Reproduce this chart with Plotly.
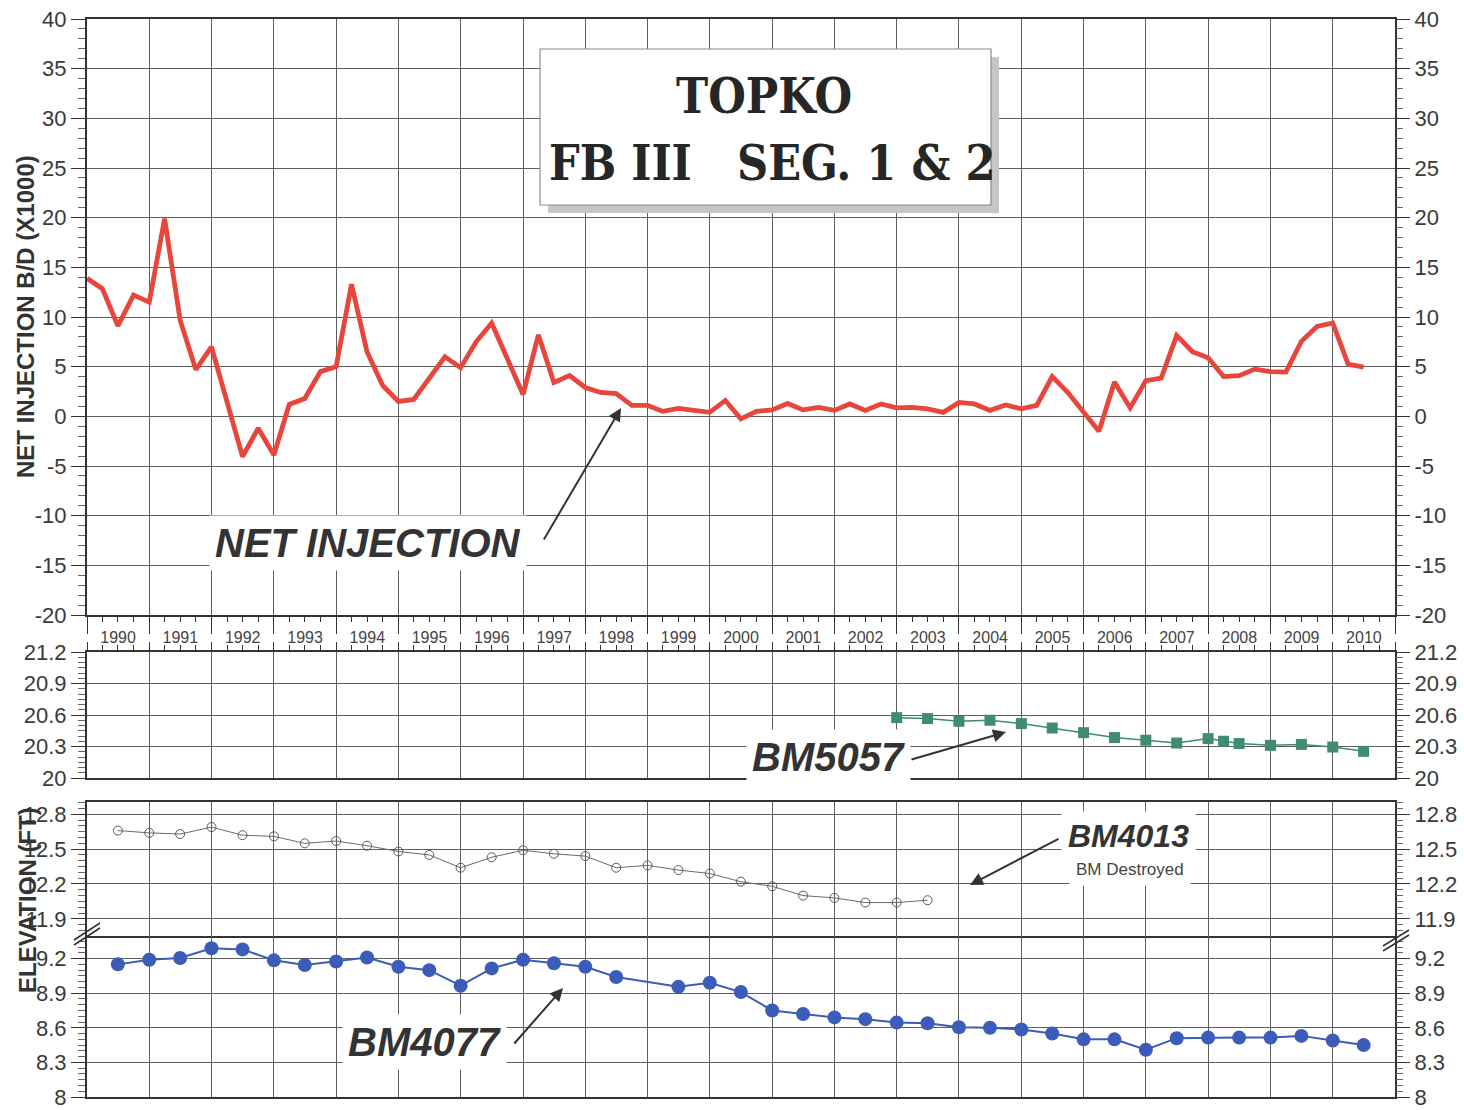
import pandas as pd
import plotly.graph_objects as go

# ---------------------------------------------------------------- data
# Net injection (B/D x1000), quarterly from 1990 Q1 through 2010 Q3
net_injection = [13.9, 12.85, 9.1, 12.2, 11.5, 19.9, 9.7, 4.7, 7.0, 1.6,
                 -4.05, -1.2, -3.9, 1.2, 1.8, 4.5, 5.0, 13.3, 6.5, 3.1,
                 1.5, 1.7, 3.8, 6.0, 4.9, 7.5, 9.4, 5.8, 2.2, 8.2,
                 3.4, 4.1, 2.9, 2.4, 2.3, 1.1, 1.1, 0.5, 0.8, 0.6,
                 0.4, 1.6, -0.25, 0.5, 0.65, 1.3, 0.65, 0.9, 0.6, 1.25,
                 0.6, 1.25, 0.85, 0.9, 0.75, 0.4, 1.4, 1.25, 0.6, 1.15,
                 0.75, 1.1, 4.0, 2.4, 0.5, -1.5, 3.45, 0.85, 3.6, 3.85,
                 8.15, 6.5, 5.9, 4.0, 4.1, 4.75, 4.5, 4.45, 7.55, 9.05,
                 9.4, 5.25, 4.95]
quarter_dates = pd.date_range("1990-01-01", periods=len(net_injection), freq="QS")

# tick labels of the injection axis (plain hyphen for negatives)
injection_ticks = [-20, -15, -10, -5, 0, 5, 10, 15, 20, 25, 30, 35, 40]
injection_ticktext = ["-20", "-15", "-10", "-5", "0", "5", "10", "15", "20",
                      "25", "30", "35", "40"]

# Benchmark BM5057 elevation (ft)
bm5057_dates = ["2003-01-01", "2003-07-01", "2004-01-01", "2004-07-01", "2005-01-01",
                "2005-07-01", "2006-01-01", "2006-07-01", "2007-01-01", "2007-07-01",
                "2008-01-01", "2008-04-01", "2008-07-01", "2009-01-01", "2009-07-01",
                "2010-01-01", "2010-07-01"]
bm5057_elev = [20.575, 20.566, 20.54, 20.55, 20.518, 20.476, 20.432, 20.385, 20.36,
               20.333, 20.375, 20.35, 20.328, 20.311, 20.32, 20.295, 20.254]

# Benchmark BM4013 elevation (ft), surveyed semi-annually until destroyed
bm4013_dates = pd.date_range("1990-07-01", "2003-07-01", freq="6MS")
bm4013_elev = [12.66, 12.64, 12.63, 12.69, 12.62, 12.61, 12.55, 12.57, 12.53,
               12.48, 12.45, 12.34, 12.43, 12.49, 12.46, 12.44, 12.34, 12.36,
               12.32, 12.29, 12.22, 12.18, 12.10, 12.08, 12.04, 12.04, 12.06]

# Benchmark BM4077 elevation (ft), semi-annual (no survey Jan 1999)
bm4077_dates = [d for d in pd.date_range("1990-07-01", "2010-07-01", freq="6MS")
                if d != pd.Timestamp("1999-01-01")]
bm4077_elev = [9.15, 9.19, 9.205, 9.29, 9.28, 9.185, 9.145, 9.175, 9.21, 9.13,
               9.10, 8.965, 9.115, 9.19, 9.16, 9.13, 9.04, 8.955, 8.99, 8.91,
               8.75, 8.72, 8.69, 8.675, 8.645, 8.64, 8.605, 8.60, 8.585, 8.55,
               8.50, 8.50, 8.41, 8.51, 8.515, 8.515, 8.515, 8.53, 8.49, 8.45]

# ---------------------------------------------------------------- layout helpers
W, H = 1464, 1110
ML, MR, MT, MB = 87, 69, 19, 13
PW, PH = W - ML - MR, H - MT - MB


def px_x(px):
    return (px - ML) / PW


def px_y(py):
    return (H - MB - py) / PH


def dom(top, bottom):
    return [px_y(bottom), px_y(top)]


FONT = "Liberation Sans, Arial, Helvetica, sans-serif"
INK = "#333333"
GRID = "#5e5e5e"
TICKFONT = dict(family=FONT, size=22, color="#3a3a3a")
XRANGE = ["1990-01-01", "2011-01-01"]

fig = go.Figure()

fig.add_trace(go.Scatter(x=quarter_dates, y=net_injection, mode="lines",
                         line=dict(color="#e8453c", width=4.8),
                         xaxis="x", yaxis="y", name="Net injection"))
fig.add_trace(go.Scatter(x=bm5057_dates, y=bm5057_elev, mode="lines+markers",
                         line=dict(color="#3f8c6e", width=1.5),
                         marker=dict(symbol="square", size=11, color="#3f8c6e"),
                         xaxis="x2", yaxis="y2", name="BM5057"))
fig.add_trace(go.Scatter(x=bm4013_dates, y=bm4013_elev, mode="lines+markers",
                         line=dict(color="#6a6a6a", width=1),
                         marker=dict(symbol="circle-open", size=9, color="#5a5a5a",
                                     line=dict(width=1)),
                         xaxis="x3", yaxis="y3", name="BM4013"))
fig.add_trace(go.Scatter(x=bm4077_dates, y=bm4077_elev, mode="lines+markers",
                         line=dict(color="#3b5cb8", width=2),
                         marker=dict(symbol="circle", size=14, color="#3b5cb8"),
                         xaxis="x4", yaxis="y4", name="BM4077"))

# transparent copies that carry the right-hand mirror axes
for xa, ya, xs, ys in [("x", "y5", quarter_dates, net_injection),
                       ("x2", "y6", bm5057_dates, bm5057_elev),
                       ("x3", "y7", bm4013_dates, bm4013_elev),
                       ("x4", "y8", bm4077_dates, bm4077_elev)]:
    fig.add_trace(go.Scatter(x=xs, y=ys, mode="lines", opacity=0,
                             line=dict(width=0), hoverinfo="skip",
                             xaxis=xa, yaxis=ya, showlegend=False))

xcommon = dict(type="date", range=XRANGE, dtick="M12", tick0="1990-01-01",
               showgrid=True, gridcolor=GRID, gridwidth=1, zeroline=False,
               showline=True, linecolor=INK, linewidth=2,
               domain=[0, 1], automargin=False)

fig.update_layout(
    xaxis=dict(**xcommon, anchor="y", mirror=True, ticks="outside", ticklen=17,
               tickwidth=1, tickcolor=INK, ticklabelmode="period", tickformat="%Y",
               ticklabelstandoff=-10,
               tickfont=dict(family=FONT, size=16, color="#444444"),
               minor=dict(dtick="M3", ticks="outside", ticklen=5, tickcolor=INK)),
    xaxis2=dict(**xcommon, anchor="y2", matches="x", mirror=True, side="top",
                ticks="outside", ticklen=8, tickcolor=INK, showticklabels=False,
                minor=dict(dtick="M3", ticks="outside", ticklen=5, tickcolor=INK)),
    xaxis3=dict(**xcommon, anchor="y3", matches="x", mirror=True,
                showticklabels=False),
    xaxis4=dict(**xcommon, anchor="y4", matches="x", mirror=False,
                showticklabels=False),
)


def yaxis(domain, rng, dtick, minor_dtick, tick0, **kw):
    return dict(domain=domain, range=rng, dtick=dtick, tick0=tick0,
                showgrid=True, gridcolor=GRID, gridwidth=1, zeroline=False,
                showline=True, mirror=True, linecolor=INK, linewidth=2,
                ticks="outside", ticklen=14, tickwidth=1, tickcolor=INK,
                tickfont=TICKFONT, automargin=False,
                minor=dict(dtick=minor_dtick, tick0=tick0, ticks="outside",
                           ticklen=7, tickcolor="#666666"),
                **kw)


def ymirror(base, anchor, dtick, minor_dtick, tick0, **kw):
    return dict(overlaying=base, matches=base, side="right", anchor=anchor,
                dtick=dtick, tick0=tick0, showgrid=False, zeroline=False,
                showline=False, ticks="outside", ticklen=14, tickwidth=1,
                tickcolor=INK, tickfont=TICKFONT, automargin=False,
                minor=dict(dtick=minor_dtick, tick0=tick0, ticks="outside",
                           ticklen=7, tickcolor="#666666"), **kw)


d_top = dom(19, 615)
d_mid = dom(652, 778)
d_up = dom(802, 936)
d_lo = dom(936, 1097)

inj_ticks = dict(tickmode="array", tickvals=injection_ticks,
                 ticktext=injection_ticktext)

fig.update_layout(
    yaxis=yaxis(d_top, [-20, 40], 5, 1, 0, anchor="x", **inj_ticks),
    yaxis2=yaxis(d_mid, [20, 21.2], 0.3, 0.05, 20, anchor="x2"),
    yaxis3=yaxis(d_up, [11.752, 12.906], 0.3, 0.05, 11.9, anchor="x3"),
    yaxis4=yaxis(d_lo, [8.0, 9.396], 0.3, 0.05, 8.0, anchor="x4"),
    yaxis5=ymirror("y", "x", 5, 1, 0, **inj_ticks),
    yaxis6=ymirror("y2", "x2", 0.3, 0.05, 20),
    yaxis7=ymirror("y3", "x3", 0.3, 0.05, 11.9),
    yaxis8=ymirror("y4", "x4", 0.3, 0.05, 8.0),
)

# ---------------------------------------------------------------- title box
shapes = [
    dict(type="rect", xref="paper", yref="paper",
         x0=px_x(548), x1=px_x(999), y0=px_y(213), y1=px_y(57),
         fillcolor="#c6c6c6", line=dict(width=0), layer="above"),
    dict(type="rect", xref="paper", yref="paper",
         x0=px_x(540), x1=px_x(991), y0=px_y(205), y1=px_y(49),
         fillcolor="white", line=dict(color="#8a8a8a", width=1.2), layer="above"),
]

# axis-break marks on the elevation panel
for xl, xr, yb, yt in [(74, 100, 940, 923), (1383, 1409, 946, 930)]:
    for off in (0, 5):
        shapes.append(dict(type="line", xref="paper", yref="paper",
                           x0=px_x(xl), x1=px_x(xr),
                           y0=px_y(yb + off), y1=px_y(yt + off),
                           line=dict(color=INK, width=1.5), layer="above"))

fig.update_layout(shapes=shapes)

TITLE_FONT = dict(family="DejaVu Serif Condensed, DejaVu Serif, serif",
                  size=48, color="#262626", weight="bold")
LABEL_FONT = dict(family=FONT, size=40, color=INK, weight="bold", style="italic")

annotations = [
    dict(text="TOPKO", x=px_x(764), y=px_y(96), font=TITLE_FONT),
    dict(text="FB III", x=px_x(620), y=px_y(163), font=TITLE_FONT),
    dict(text="SEG. 1 &amp; 2", x=px_x(866), y=px_y(163), font=TITLE_FONT),
    dict(text="NET INJECTION", x=px_x(368), y=px_y(543), font=LABEL_FONT,
         bgcolor="white", borderpad=5),
    dict(text="BM5057", x=px_x(828), y=px_y(757), font=LABEL_FONT,
         bgcolor="white", borderpad=5),
    dict(text="BM4077", x=px_x(424), y=px_y(1042), font=LABEL_FONT,
         bgcolor="white", borderpad=5),
    dict(text="BM4013", x=px_x(1128), y=px_y(836),
         font=dict(family=FONT, size=32, color=INK, weight="bold", style="italic"),
         bgcolor="white", borderpad=6),
    dict(text="BM Destroyed", x=px_x(1130), y=px_y(870),
         font=dict(family=FONT, size=17, color="#444444"),
         bgcolor="white", borderpad=6),
    dict(text="NET INJECTION B/D (X1000)", x=px_x(25), y=px_y(317), textangle=-90,
         font=dict(family=FONT, size=24, color=INK, weight="bold")),
    dict(text="ELEVATION (FT)", x=px_x(27), y=px_y(900), textangle=-90,
         font=dict(family=FONT, size=24, color=INK, weight="bold")),
]
for a in annotations:
    a.update(xref="paper", yref="paper", showarrow=False,
             xanchor="center", yanchor="middle")

# pointer arrows: head position, then tail offset in pixels
for hx, hy, tx, ty in [(621, 408, 543, 541), (1006, 732, 910, 760),
                       (970, 885, 1060, 838), (563, 988, 513, 1045)]:
    annotations.append(dict(text="", xref="paper", yref="paper",
                            x=px_x(hx), y=px_y(hy), ax=tx - hx, ay=ty - hy,
                            showarrow=True, arrowhead=2, arrowsize=1.3,
                            arrowwidth=2, arrowcolor=INK))

fig.update_layout(
    annotations=annotations,
    width=W, height=H,
    margin=dict(l=ML, r=MR, t=MT, b=MB, autoexpand=False),
    paper_bgcolor="white", plot_bgcolor="white",
    showlegend=False,
    font=dict(family=FONT, color=INK),
)

fig.write_html("out.html")
